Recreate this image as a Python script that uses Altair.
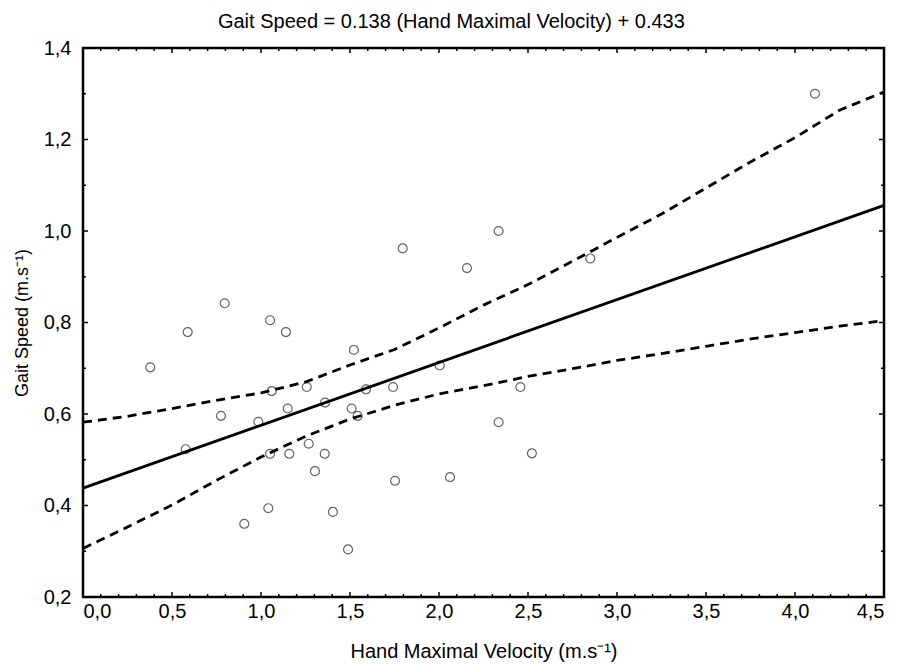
import altair as alt
import pandas as pd
import numpy as np

# Scatter data (Hand Maximal Velocity, Gait Speed)
hand_velocity = [0.378, 0.577, 0.588, 0.775, 0.796, 0.906, 0.985, 1.041, 1.051, 1.051,
                 1.060, 1.140, 1.150, 1.159, 1.257, 1.268, 1.303, 1.358, 1.360, 1.404,
                 1.489, 1.509, 1.522, 1.543, 1.590, 1.742, 1.753, 1.796, 2.004, 2.062,
                 2.157, 2.335, 2.335, 2.457, 2.522, 2.850, 4.112]
gait_speed = [0.702, 0.523, 0.779, 0.596, 0.842, 0.360, 0.583, 0.394, 0.805, 0.513,
              0.650, 0.779, 0.612, 0.513, 0.659, 0.535, 0.475, 0.513, 0.625, 0.386,
              0.304, 0.612, 0.740, 0.596, 0.654, 0.659, 0.454, 0.962, 0.706, 0.462,
              0.919, 1.000, 0.582, 0.659, 0.514, 0.940, 1.300]

# Regression line endpoints
fit_x = [0.0, 4.5]
fit_y = [0.438, 1.056]

# Confidence band
band_x = [0.0, 0.25, 0.5, 0.75, 1.0, 1.25, 1.5, 1.75, 2.0, 2.25, 2.5, 2.75, 3.0,
          3.25, 3.5, 3.75, 4.0, 4.25, 4.5]
upper_y = [0.582, 0.595, 0.612, 0.630, 0.646, 0.670, 0.707, 0.741, 0.788, 0.838,
           0.883, 0.934, 0.986, 1.037, 1.094, 1.151, 1.204, 1.264, 1.304]
lower_y = [0.306, 0.353, 0.401, 0.455, 0.506, 0.551, 0.589, 0.619, 0.644, 0.662,
           0.682, 0.699, 0.717, 0.732, 0.748, 0.764, 0.778, 0.792, 0.804]

x_labels = [0.0, 0.5, 1.0, 1.5, 2.0, 2.5, 3.0, 3.5, 4.0, 4.5]
y_labels = [0.2, 0.4, 0.6, 0.8, 1.0, 1.2, 1.4]
x_minor = [round(v, 1) for v in np.arange(0.1, 4.5, 0.1) if abs(v * 2 - round(v * 2)) > 1e-6]
y_minor = [0.3, 0.5, 0.7, 0.9, 1.1, 1.3]

W, H = 801, 549
NARROW = "Liberation Sans Narrow, Arial Narrow, Liberation Sans, Arial, sans-serif"
REG = "Liberation Sans, Arial, sans-serif"

xscale = alt.Scale(domain=[0, 4.5], nice=False, zero=False)
yscale = alt.Scale(domain=[0.2, 1.4], nice=False, zero=False)
xaxis = alt.Axis(values=x_labels, labelExpr="replace(format(datum.value, '.1f'), '.', ',')",
                 ticks=False, domain=False, grid=False, labelPadding=4, labelFontSize=20,
                 labelFont=NARROW, labelColor="black", title="Hand Maximal Velocity (m.s⁻¹)",
                 titleFont=REG, titleFontSize=20, titleFontWeight="normal",
                 titleColor="black", titlePadding=20)
yaxis = alt.Axis(values=y_labels, labelExpr="replace(format(datum.value, '.1f'), '.', ',')",
                 ticks=False, domain=False, grid=False, labelPadding=12, labelFontSize=20,
                 labelFont=REG, labelColor="black", title="Gait Speed (m.s⁻¹)",
                 titleFont=REG, titleFontSize=18, titleFontWeight="normal",
                 titleColor="black", titlePadding=12)

def X(f):
    return alt.X(f, type="quantitative", scale=xscale, axis=xaxis)

def Y(f):
    return alt.Y(f, type="quantitative", scale=yscale, axis=yaxis)

pts = pd.DataFrame({"x": hand_velocity, "y": gait_speed})
fit = pd.DataFrame({"x": fit_x, "y": fit_y})
band = pd.concat([
    pd.DataFrame({"x": band_x, "y": upper_y, "b": "upper"}),
    pd.DataFrame({"x": band_x, "y": lower_y, "b": "lower"}),
])

points = alt.Chart(pts).mark_point(shape="circle", filled=False, size=80, color="#222222",
                                   strokeWidth=1.2).encode(x=X("x"), y=Y("y"))
fit_line = alt.Chart(fit).mark_line(color="black", strokeWidth=2.8).encode(x=X("x"), y=Y("y"))
band_lines = alt.Chart(band).mark_line(color="black", strokeWidth=2.8, strokeDash=[9, 6]).encode(
    x=X("x"), y=Y("y"), detail="b:N")

xt_major = pd.DataFrame({"x": x_labels})
xt_minor = pd.DataFrame({"x": x_minor})
yt_major = pd.DataFrame({"y": y_labels})
yt_minor = pd.DataFrame({"y": y_minor})

def xticks(df, L):
    b = alt.Chart(df).mark_rule(color="black", strokeWidth=1.5).encode(
        x=X("x"), y=alt.value(H), y2=alt.value(H - L))
    t = alt.Chart(df).mark_rule(color="black", strokeWidth=1.5).encode(
        x=X("x"), y=alt.value(0), y2=alt.value(L))
    return [b, t]

def yticks(df, L):
    l = alt.Chart(df).mark_rule(color="black", strokeWidth=1.5).encode(
        y=Y("y"), x=alt.value(0), x2=alt.value(L))
    r = alt.Chart(df).mark_rule(color="black", strokeWidth=1.5).encode(
        y=Y("y"), x=alt.value(W), x2=alt.value(W - L))
    return [l, r]

layers = [points, band_lines, fit_line] + xticks(xt_major, 5) + xticks(xt_minor, 3) \
    + yticks(yt_major, 5) + yticks(yt_minor, 3)

chart = alt.layer(*layers).properties(
    width=W, height=H,
    background="white",
    autosize=alt.AutoSizeParams(type="none"),
    padding={"left": 75, "top": 40, "right": 9, "bottom": 66},
    title=alt.TitleParams("Gait Speed = 0.138 (Hand Maximal Velocity) + 0.433",
                          font=REG, fontSize=20, fontWeight="normal", color="black",
                          anchor="middle", frame="bounds", offset=6),
).configure_view(stroke="black", strokeWidth=2.5)

chart.save("out.html", embed_options={"renderer": "svg", "actions": False})
